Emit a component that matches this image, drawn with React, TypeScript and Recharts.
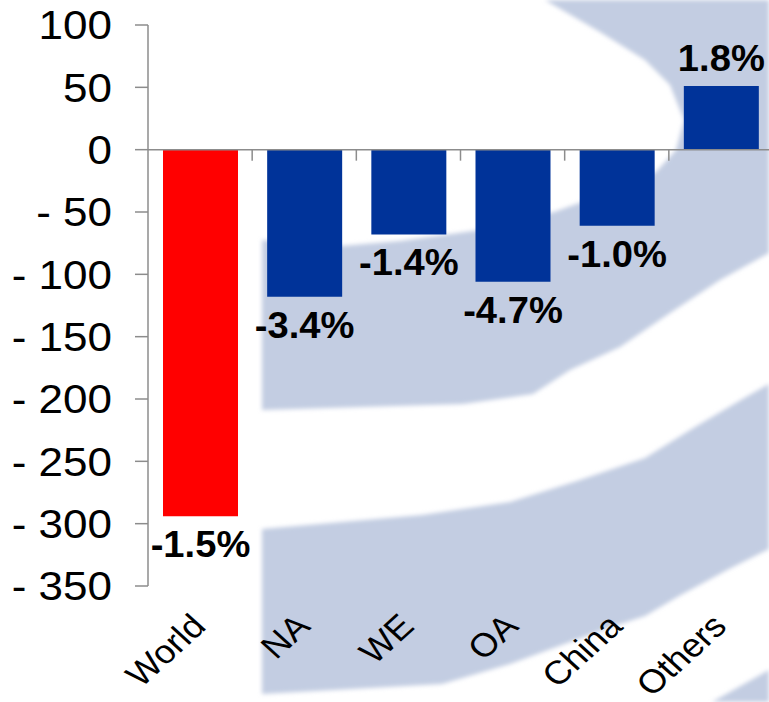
import React from 'react';
import { BarChart, Bar, XAxis, YAxis, Cell, LabelList, ReferenceLine } from 'recharts';

// volume change by region, with growth rate shown on each bar
const regions = ['World', 'NA', 'WE', 'OA', 'China', 'Others'];
const changeValues = [-294, -118, -68, -106, -61, 51];
const growthLabels = ['-1.5%', '-3.4%', '-1.4%', '-4.7%', '-1.0%', '1.8%'];
const barColors = ['#ff0000', '#003399', '#003399', '#003399', '#003399', '#003399'];
const yTicks = [100, 50, 0, -50, -100, -150, -200, -250, -300, -350];

const data = regions.map((name, i) => ({
  name,
  value: changeValues[i],
  label: growthLabels[i],
}));

const FONT = '"Liberation Sans", Arial, sans-serif';
const AXIS = '#8c8c8c';
const STRETCH = 1.1;
const WATERMARK = '#c3cde2';

function YTick({ x, y, payload }: any) {
  const v = payload.value;
  const txt = v < 0 ? `- ${Math.abs(v)}` : `${v}`;
  return (
    <text
      transform={`translate(${x},${y}) scale(${STRETCH},1)`}
      textAnchor="end"
      dy="0.355em"
      fontSize={40}
      fontFamily={FONT}
      fill="#000"
    >
      {txt}
    </text>
  );
}

function XTick({ x, y, payload }: any) {
  return (
    <text
      transform={`translate(${x + 7.5},${y + 42}) scale(${STRETCH},1) rotate(-45)`}
      textAnchor="end"
      fontSize={33}
      fontFamily={FONT}
      fill="#000"
    >
      {payload.value}
    </text>
  );
}

// zero line with tick marks between categories (excel style)
function ZeroAxis(props: any) {
  const { x1, x2, y1 } = props;
  const step = (x2 - x1) / regions.length;
  return (
    <g>
      <line x1={x1} x2={x2} y1={y1} y2={y1} stroke={AXIS} strokeWidth={1.5} />
      {regions.slice(1).map((r, i) => (
        <line
          key={r}
          x1={x1 + (i + 1) * step}
          x2={x1 + (i + 1) * step}
          y1={y1}
          y2={y1 + 11}
          stroke={AXIS}
          strokeWidth={1.5}
        />
      ))}
    </g>
  );
}

function renderLabel(props: any) {
  const { x, y, width, height, value, index } = props;
  const top = Math.min(Number(y), Number(y) + Number(height));
  const bottom = Math.max(Number(y), Number(y) + Number(height));
  const cx = Number(x) + Number(width) / 2;
  const by = changeValues[index] < 0 ? bottom + 41 : top - 15;
  return (
    <text
      transform={`translate(${cx},${by}) scale(1.06,1)`}
      textAnchor="middle"
      fontSize={36}
      fontWeight="bold"
      fontFamily={FONT}
      fill="#000"
    >
      {value}
    </text>
  );
}

function Watermark() {
  return (
    <svg width={769} height={702} style={{ position: 'absolute', left: 0, top: 0 }}>
      <defs>
        <filter id="soft">
          <feGaussianBlur stdDeviation="2" />
        </filter>
      </defs>
      <g fill={WATERMARK} filter="url(#soft)">
        <path d="M545,0 L769,0 L769,253 L720,280 L670,313 L620,347 L570,370 L533,394 L463,404 L262,410 L262,240 L341,246 L400,241 L480,230 L554,212 L610,192 L656,172 L676,150 L684,120 L670,85 L645,60 L600,32 Z" />
        <path d="M262,529 L422,515 L510,502 L577,481 L645,458 L695,427 L746,397 L769,384 L769,549 L729,569 L679,596 L645,616 L611,627 L510,664 L442,684 L262,694 Z" />
        <path d="M712,702 L769,670 L769,702 Z" />
      </g>
    </svg>
  );
}

export default function App() {
  return (
    <div
      style={{
        position: 'absolute',
        left: 0,
        top: 0,
        width: 769,
        height: 702,
        overflow: 'hidden',
        background: '#fff',
      }}
    >
      <Watermark />
      <div style={{ position: 'absolute', left: 0, top: 0 }}>
        <BarChart width={773} height={702} data={data} margin={{ top: 25, right: 0, bottom: 0, left: 0 }}>
          <XAxis
            dataKey="name"
            axisLine={false}
            tickLine={false}
            tickSize={0}
            tickMargin={0}
            height={116}
            interval={0}
            tick={<XTick />}
          />
          <YAxis
            type="number"
            domain={[-350, 100]}
            ticks={yTicks}
            interval={0}
            width={148}
            axisLine={{ stroke: AXIS, strokeWidth: 1.5 }}
            tickLine={{ stroke: AXIS, strokeWidth: 1.5 }}
            tickSize={13}
            tickMargin={23}
            tick={<YTick />}
          />
          <Bar dataKey="value" barSize={75} isAnimationActive={false}>
            {data.map((d, i) => (
              <Cell key={d.name} fill={barColors[i]} />
            ))}
            <LabelList dataKey="label" content={renderLabel} />
          </Bar>
          <ReferenceLine y={0} shape={<ZeroAxis />} />
        </BarChart>
      </div>
    </div>
  );
}
